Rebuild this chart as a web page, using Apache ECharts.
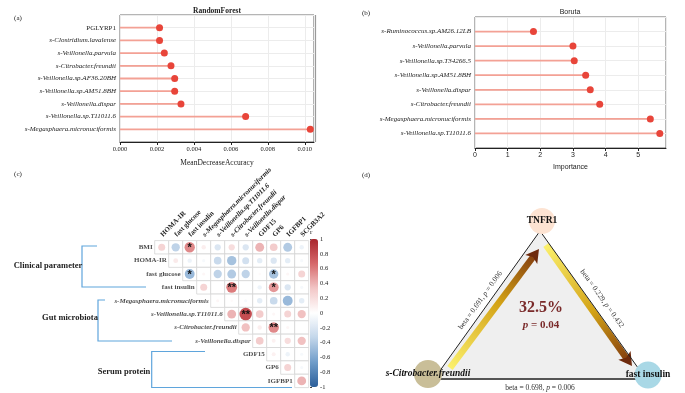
<!DOCTYPE html>
<html>
<head>
<meta charset="utf-8">
<script src="https://cdn.jsdelivr.net/npm/echarts@6/dist/echarts.min.js"></script>
<style>
html, body { margin: 0; padding: 0; background: #fff; }
#chart { width: 685px; height: 393px; }
</style>
</head>
<body>
<div id="chart"></div>
<script>
// (a) random forest
const rfNames = ['PGLYRP1', 's-Clostridium.lavalense', 's-Veillonella.parvula', 's-Citrobacter.freundii',
  's-Veillonella.sp.AF36.20BH', 's-Veillonella.sp.AM51.8BH', 's-Veillonella.dispar',
  's-Veillonella.sp.T11011.6', 's-Megasphaera.micronuciformis'];
const rfValues = [0.00214, 0.00214, 0.0024, 0.00276, 0.00296, 0.00296, 0.0033, 0.0068, 0.0103];

// (b) boruta
const borutaNames = ['s-Ruminococcus.sp.AM26.12LB', 's-Veillonella.parvula', 's-Veillonella.sp.T34266.5',
  's-Veillonella.sp.AM51.8BH', 's-Veillonella.dispar', 's-Citrobacter.freundii',
  's-Megasphaera.micronuciformis', 's-Veillonella.sp.T11011.6'];
const borutaValues = [1.79, 3.0, 3.04, 3.39, 3.53, 3.82, 5.37, 5.66];

// (c) correlation, each row starts at its diagonal column
const corrCols = ['HOMA-IR', 'fast glucose', 'fast insulin', 's-Megasphaera.micronuciformis',
  's-Veillonella.sp.T11011.6', 's-Citrobacter.freundii', 's-Veillonella.dispar', 'GDF15', 'GP6', 'IGFBP1', 'SCGB3A2'];
const corrRows = ['BMI', 'HOMA-IR', 'fast glucose', 'fast insulin', 's-Megasphaera.micronuciformis',
  's-Veillonella.sp.T11011.6', 's-Citrobacter.freundii', 's-Veillonella.dispar', 'GDF15', 'GP6', 'IGFBP1'];
const corrR = [
  [0.25, -0.35, 0.55, 0.1, -0.2, 0.2, -0.2, 0.4, 0.3, -0.4, -0.1],
  [0.12, -0.1, -0.05, -0.3, -0.45, -0.25, -0.15, -0.2, -0.15, -0.05],
  [-0.5, 0.05, -0.35, -0.4, -0.35, 0.03, -0.45, 0.05, 0.25],
  [0.25, 0, 0.6, 0, -0.1, 0.5, -0.2, -0.05],
  [0.05, 0.03, -0.05, -0.15, -0.3, -0.5, -0.15],
  [0.4, 0.8, 0.3, 0.05, 0.25, 0.35],
  [0.35, 0.1, 0.55, 0.05, 0],
  [0.3, 0.08, 0.2, 0.35],
  [0.08, -0.1, -0.05],
  [0.25, -0.05],
  [0.4],
];
// [row, col, mark]
const corrSig = [[0, 2, '*'], [2, 2, '*'], [2, 8, '*'], [3, 5, '**'], [3, 8, '*'], [5, 6, '**'], [6, 8, '**']];
const corrGroups = ['Clinical parameter', 'Gut microbiota', 'Serum protein'];

// (d) mediation
const medNodes = ['TNFR1', 's-Citrobacter.freundii', 'fast insulin'];
const pathBeta = [0.691, 0.229, 0.698];   // X->M, M->Y, X->Y
const pathP = ['0.006', '0.432', '0.006'];
const mediatedPct = '32.5%';
const mediationP = '0.04';

const SERIF = 'Liberation Serif';
const SANS = 'Liberation Sans';
const isSpecies = s => s.indexOf('s-') === 0;

const myChart = echarts.init(document.getElementById('chart'));

const padCats = names => ['\u200b', ...names, '\u200b\u200b'];
const padVals = vals => [null, ...vals, null];

// matrix data
const cellData = [];
const circleData = [];
corrR.forEach((row, i) => {
  row.forEach((r, k) => {
    const j = i + k;
    cellData.push([j, i]);
    const sig = corrSig.find(s => s[0] === i && s[1] === j);
    circleData.push([j, i, r, sig ? sig[2] : '']);
  });
});

const lollipopAxis = (names, idx) => ({
  type: 'category',
  gridIndex: idx,
  data: padCats(names),
  inverse: true,
  boundaryGap: false,
  axisLine: { show: false },
  axisTick: { show: false },
  axisLabel: {
    fontFamily: SERIF, fontSize: 7, fontStyle: 'italic', color: '#222', margin: 4,
    formatter: v => (isSpecies(v) ? v : '{n|' + v + '}'),
    rich: { n: { fontFamily: SERIF, fontSize: 7, fontStyle: 'normal', color: '#222' } },
  },
  splitLine: { show: true, lineStyle: { color: '#ececec', width: 1 } },
});

// arrows for panel (d)
function arrow(tail, tip) {
  const dx = tip[0] - tail[0];
  const dy = tip[1] - tail[1];
  const len = Math.sqrt(dx * dx + dy * dy);
  const u = [dx / len, dy / len];
  const n = [-u[1], u[0]];
  const hl = 13;
  const hw = 7.5;
  const base = [tip[0] - hl * u[0], tip[1] - hl * u[1]];
  return [
    {
      type: 'line', z: 1, silent: true,
      shape: { x1: tail[0], y1: tail[1], x2: tip[0] - 7 * u[0], y2: tip[1] - 7 * u[1] },
      style: {
        lineWidth: 6.5,
        stroke: {
          type: 'linear', global: true, x: tail[0], y: tail[1], x2: tip[0], y2: tip[1],
          colorStops: [{ offset: 0, color: '#fbf06c' }, { offset: 0.55, color: '#d3a216' }, { offset: 1, color: '#7a320e' }],
        },
      },
    },
    {
      type: 'polygon', z: 1, silent: true,
      shape: {
        points: [tip, [base[0] + hw * n[0], base[1] + hw * n[1]],
          [base[0] + 3 * u[0], base[1] + 3 * u[1]], [base[0] - hw * n[0], base[1] - hw * n[1]]],
      },
      style: { fill: '#6e2a0d' },
    },
  ];
}

const vA = [434, 379];
const vB = [540, 231];
const vC = [646, 379];

const txt = (x, y, text, extra) => ({
  type: 'text', x, y, silent: true, z: 5,
  style: Object.assign({ text, fontFamily: SERIF, fontSize: 7, fill: '#222', align: 'center', verticalAlign: 'middle' }, extra || {}),
});

const bracket = pts => ({
  type: 'polyline', silent: true, shape: { points: pts },
  style: { stroke: '#5fa5dc', lineWidth: 1.2, fill: null },
});

const betaLabel = i => 'beta = ' + pathBeta[i] + ', {i|p} = ' + pathP[i];

const option = {
  animation: false,
  backgroundColor: '#fff',
  grid: [
    { left: 120, top: 15, width: 194, height: 127, show: true, borderColor: '#444', borderWidth: 0.8 },
    { left: 475, top: 17, width: 191, height: 131, show: true, borderColor: '#444', borderWidth: 0.8 },
    { left: 154.7, top: 240.6, width: 154, height: 147 },
    { left: 310, top: 239, width: 8, height: 148 },
  ],
  xAxis: [
    {
      type: 'value', gridIndex: 0, min: 0, max: 0.0105, interval: 0.002,
      name: 'MeanDecreaseAccuracy', nameLocation: 'middle', nameGap: 17,
      nameTextStyle: { fontFamily: SERIF, fontSize: 7.5, color: '#222' },
      axisLine: { show: true, lineStyle: { color: '#222' } },
      axisTick: { show: true, length: 3, lineStyle: { color: '#222' } },
      axisLabel: { fontFamily: SERIF, fontSize: 6.5, color: '#222', margin: 4, showMaxLabel: false, formatter: v => v.toFixed(3) },
      splitLine: { show: true, lineStyle: { color: '#ececec' } },
    },
    {
      type: 'value', gridIndex: 1, min: 0, max: 5.85, interval: 1,
      name: 'Importance', nameLocation: 'middle', nameGap: 16,
      nameTextStyle: { fontFamily: SANS, fontSize: 7, color: '#222' },
      axisLine: { show: true, lineStyle: { color: '#222' } },
      axisTick: { show: true, length: 3, lineStyle: { color: '#222' } },
      axisLabel: { fontFamily: SANS, fontSize: 7, color: '#222', margin: 4, showMaxLabel: false },
      splitLine: { show: true, lineStyle: { color: '#ececec' } },
    },
    {
      type: 'category', gridIndex: 2, position: 'top', data: corrCols,
      axisLine: { show: false }, axisTick: { show: false },
      axisLabel: {
        interval: 0, rotate: -45, margin: 5, fontFamily: SERIF, fontSize: 7, fontWeight: 'bold', color: '#222',
        formatter: v => (isSpecies(v) ? '{i|' + v + '}' : v),
        rich: { i: { fontFamily: SERIF, fontSize: 7, fontWeight: 'bold', fontStyle: 'italic', color: '#222' } },
      },
    },
    { type: 'value', gridIndex: 3, show: false },
  ],
  yAxis: [
    lollipopAxis(rfNames, 0),
    lollipopAxis(borutaNames, 1),
    { type: 'category', gridIndex: 2, data: corrRows, inverse: true, show: false },
    {
      type: 'value', gridIndex: 3, position: 'right', min: -1, max: 1, interval: 0.2,
      name: 'r', nameLocation: 'end', nameGap: 3,
      nameTextStyle: { fontFamily: SERIF, fontSize: 7, color: '#222', align: 'left' },
      axisLine: { show: false },
      axisTick: { show: true, length: 2, lineStyle: { color: '#444' } },
      axisLabel: { fontFamily: SERIF, fontSize: 6.5, color: '#222', margin: 2 },
      splitLine: { show: false },
    },
  ],
  visualMap: {
    type: 'continuous', seriesIndex: 5, dimension: 2, min: -1, max: 1,
    orient: 'vertical', left: 310, top: 239, itemWidth: 8, itemHeight: 148, padding: 0,
    calculable: false, showLabel: false, text: null,
    inRange: { color: ['#2c5f9a', '#6f9cc9', '#c3d6ea', '#ffffff', '#f2c6c6', '#d6686a', '#a8252c'] },
  },
  series: [
    {
      type: 'bar', xAxisIndex: 0, yAxisIndex: 0, data: padVals(rfValues), barWidth: 1.8, silent: true,
      itemStyle: { color: '#f3a195' },
    },
    {
      type: 'scatter', xAxisIndex: 0, yAxisIndex: 0, symbolSize: 7, silent: true,
      data: rfValues.map((v, i) => [v, i + 1]), itemStyle: { color: '#e8453a', opacity: 1 },
    },
    {
      type: 'bar', xAxisIndex: 1, yAxisIndex: 1, data: padVals(borutaValues), barWidth: 1.8, silent: true,
      itemStyle: { color: '#f3a195' },
    },
    {
      type: 'scatter', xAxisIndex: 1, yAxisIndex: 1, symbolSize: 7, silent: true,
      data: borutaValues.map((v, i) => [v, i + 1]), itemStyle: { color: '#e8453a', opacity: 1 },
    },
    {
      type: 'scatter', xAxisIndex: 2, yAxisIndex: 2, symbol: 'rect', symbolSize: [14, 13.37], silent: true,
      data: cellData, itemStyle: { color: '#fff', borderColor: '#d4d4d4', borderWidth: 0.8, opacity: 1 },
    },
    {
      type: 'scatter', xAxisIndex: 2, yAxisIndex: 2, silent: true, z: 3,
      data: circleData,
      symbolSize: d => 14 * Math.sqrt(Math.abs(d[2])),
      itemStyle: { opacity: 1 },
      label: {
        show: true, position: 'inside', formatter: p => p.data[3], color: '#111',
        fontSize: 11, fontWeight: 'bold', fontFamily: SANS, offset: [0, 1],
      },
    },
    {
      type: 'scatter', xAxisIndex: 2, yAxisIndex: 2, silent: true, symbolSize: [14, 13],
      data: corrRows.map((r, i) => [i, i, r]), itemStyle: { color: 'rgba(0,0,0,0)' },
      label: {
        show: true, position: 'left', distance: 2,
        formatter: p => (isSpecies(p.data[2]) ? '{i|' + p.data[2] + '}' : p.data[2]),
        fontFamily: SERIF, fontSize: 7, fontWeight: 'bold', color: '#222',
        rich: { i: { fontFamily: SERIF, fontSize: 7, fontWeight: 'bold', fontStyle: 'italic', color: '#222' } },
      },
    },
    {
      type: 'graph', layout: 'none', silent: true, roam: false, z: 3,
      left: 428, top: 221, width: 220, height: 158,
      label: { show: true, position: 'inside', fontFamily: SERIF, fontSize: 9.5, fontWeight: 'bold', color: '#111' },
      edgeSymbol: ['none', 'none'],
      edgeLabel: {
        show: true, position: 'middle', distance: 4, fontFamily: SERIF, fontSize: 7.5, color: '#333',
        rich: { i: { fontFamily: SERIF, fontSize: 7.5, fontStyle: 'italic', color: '#333' } },
      },
      lineStyle: { color: '#222', width: 1, opacity: 1, curveness: 0 },
      data: [
        { name: medNodes[0], x: 542, y: 221, symbolSize: 26, itemStyle: { color: '#fde3d2' } },
        { name: medNodes[1], x: 428, y: 374, symbolSize: 28, itemStyle: { color: '#c9be98' }, label: { fontStyle: 'italic' } },
        { name: medNodes[2], x: 648, y: 375, symbolSize: 27, itemStyle: { color: '#a9d8e6' } },
        { name: 'vA', x: vA[0], y: vA[1], symbolSize: 0, label: { show: false } },
        { name: 'vB', x: vB[0], y: vB[1], symbolSize: 0, label: { show: false } },
        { name: 'vC', x: vC[0], y: vC[1], symbolSize: 0, label: { show: false } },
      ],
      links: [
        { source: 'vA', target: 'vB', label: { formatter: betaLabel(0), distance: 4 } },
        { source: 'vB', target: 'vC', label: { formatter: betaLabel(1), distance: 7 } },
        {
          source: 'vA', target: 'vC', lineStyle: { color: '#555', width: 2.2 },
          label: { formatter: betaLabel(2), position: 'insideMiddleBottom', distance: 5 },
        },
      ],
    },
  ],
  graphic: [
    txt(18, 18, '(a)'),
    txt(366, 13, '(b)'),
    txt(18, 174, '(c)'),
    txt(366, 175, '(d)'),
    txt(217, 11, 'RandomForest', { fontWeight: 'bold', fontSize: 7.5 }),
    txt(570, 12, 'Boruta', { fontFamily: SANS, fontSize: 7 }),
    { type: 'line', silent: true, shape: { x1: 315, y1: 15, x2: 315, y2: 142 }, style: { stroke: '#9a9a9a', lineWidth: 2.2 } },
    bracket([[97, 246], [82, 246], [82, 287], [146, 287]]),
    bracket([[105, 300], [98, 300], [98, 341], [172, 341]]),
    bracket([[205, 351.5], [151.7, 351.5], [151.7, 387.5], [292, 387.5]]),
    txt(48, 266, corrGroups[0], { fontWeight: 'bold', fontSize: 8.5 }),
    txt(70, 318, corrGroups[1], { fontWeight: 'bold', fontSize: 8.5 }),
    txt(124, 372, corrGroups[2], { fontWeight: 'bold', fontSize: 8.5 }),
    {
      type: 'polygon', z: 0, silent: true,
      shape: { points: [vA, vB, vC] }, style: { fill: '#efefef' },
    },
    ...arrow([450, 368], [539, 249]),
    ...arrow([546, 245], [632, 366]),
    txt(541, 308, mediatedPct, { fontWeight: 'bold', fontSize: 16, fill: '#7a2a2a' }),
    {
      type: 'text', x: 541, y: 325, silent: true, z: 5,
      style: {
        text: '{i|p} = ' + mediationP, align: 'center', verticalAlign: 'middle',
        fontFamily: SERIF, fontSize: 11, fontWeight: 'bold', fill: '#7a2a2a',
        rich: { i: { fontFamily: SERIF, fontSize: 11, fontWeight: 'bold', fontStyle: 'italic', fill: '#7a2a2a' } },
      },
    },
  ],
};

myChart.setOption(option);
</script>
</body>
</html>
